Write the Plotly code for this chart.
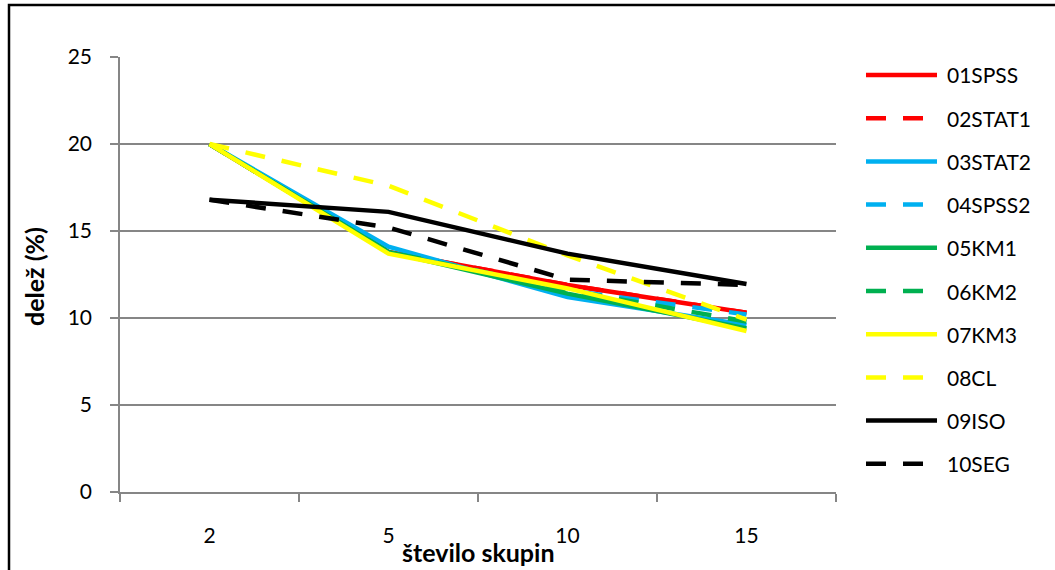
import plotly.graph_objects as go

# Number of clusters (categories on the x axis)
skupine = ["2", "5", "10", "15"]

# Share (%) per method
s01_spss = [20.0, 13.8, 11.9, 10.3]
s02_stat1 = [20.0, 13.8, 11.9, 10.3]
s03_stat2 = [20.0, 14.1, 11.2, 9.6]
s04_spss2 = [20.0, 13.8, 11.6, 10.2]
s05_km1 = [20.0, 13.8, 11.4, 9.4]
s06_km2 = [20.0, 13.8, 11.6, 9.8]
s07_km3 = [20.0, 13.7, 11.7, 9.25]
s08_cl = [20.0, 17.6, 13.6, 9.9]
s09_iso = [16.8, 16.1, 13.7, 11.95]
s10_seg = [16.8, 15.2, 12.2, 11.9]

names = ["01SPSS", "02STAT1", "03STAT2", "04SPSS2", "05KM1",
         "06KM2", "07KM3", "08CL", "09ISO", "10SEG"]
values = [s01_spss, s02_stat1, s03_stat2, s04_spss2, s05_km1,
          s06_km2, s07_km3, s08_cl, s09_iso, s10_seg]

colors = ["#FF0000", "#FF0000", "#00B0F0", "#00B0F0", "#00B050",
          "#00B050", "#FFFF00", "#FFFF00", "#000000", "#000000"]
DASHED = "20px,17px"
dashes = ["solid", DASHED] * 5

FONT = "Lato, Carlito, Calibri, sans-serif"
GRID = "#868686"

fig = go.Figure()
for name, vals, col, dash in zip(names, values, colors, dashes):
    fig.add_trace(go.Scatter(
        x=skupine, y=vals, name=name, mode="lines",
        line=dict(color=col, width=4.5, dash=dash),
        showlegend=False,
    ))

# plot-area geometry in pixels (used to place the legend keys and frame)
W, H = 1055, 570
L, R, T, B = 120, 219, 57, 78
pw, ph = W - L - R, H - T - B


def px_x(px):
    return (px - L) / pw


def px_y(py):
    return (H - B - py) / ph


shapes = []
annotations = []

# legend keys drawn on the right side
for i, (name, col, dash) in enumerate(zip(names, colors, dashes)):
    yc = 75 + 43.2 * i
    shapes.append(dict(
        type="line", xref="paper", yref="paper",
        x0=px_x(866), x1=px_x(937), y0=px_y(yc), y1=px_y(yc),
        line=dict(color=col, width=4.5, dash=dash),
    ))
    annotations.append(dict(
        xref="paper", yref="paper", x=px_x(945), y=px_y(yc),
        text=name, showarrow=False, xanchor="left", yanchor="middle",
        font=dict(family=FONT, size=21, color="#000000"),
    ))

# outer frame of the chart
shapes.append(dict(
    type="rect", xref="paper", yref="paper", layer="below",
    x0=px_x(9), x1=px_x(W + 10), y0=px_y(5), y1=px_y(H + 10),
    line=dict(color="#000000", width=2.5), fillcolor="rgba(0,0,0,0)",
))

# axis titles
annotations.append(dict(
    xref="paper", yref="paper", x=px_x(478), y=px_y(552),
    text="<b>število skupin</b>", showarrow=False,
    xanchor="center", yanchor="middle",
    font=dict(family=FONT, size=25, color="#000000"),
))
annotations.append(dict(
    xref="paper", yref="paper", x=px_x(34), y=px_y(277),
    text="<b>delež (%)</b>", showarrow=False, textangle=-90,
    xanchor="center", yanchor="middle",
    font=dict(family=FONT, size=25, color="#000000"),
))

fig.update_layout(
    width=W, height=H,
    margin=dict(l=L, r=R, t=T, b=B, pad=0),
    paper_bgcolor="#FFFFFF", plot_bgcolor="#FFFFFF",
    font=dict(family=FONT, size=21, color="#000000"),
    showlegend=False,
    shapes=shapes,
    annotations=annotations,
    xaxis=dict(
        type="category", range=[-0.5, 3.5],
        showline=True, linecolor=GRID, linewidth=1.5,
        ticks="outside", tickson="boundaries", ticklen=8,
        tickcolor=GRID, tickwidth=1.5,
        showgrid=False, zeroline=False,
        ticklabelstandoff=24,
        tickfont=dict(family=FONT, size=21, color="#000000"),
    ),
    yaxis=dict(
        range=[0, 25], tickvals=[0, 5, 10, 15, 20, 25],
        showline=True, linecolor=GRID, linewidth=1.5,
        ticks="outside", ticklen=8, tickcolor=GRID, tickwidth=1.5,
        showgrid=True, gridcolor=GRID, gridwidth=1.5,
        zeroline=False,
        ticklabelstandoff=14,
        tickfont=dict(family=FONT, size=21, color="#000000"),
    ),
)

fig.write_html("out.html")
